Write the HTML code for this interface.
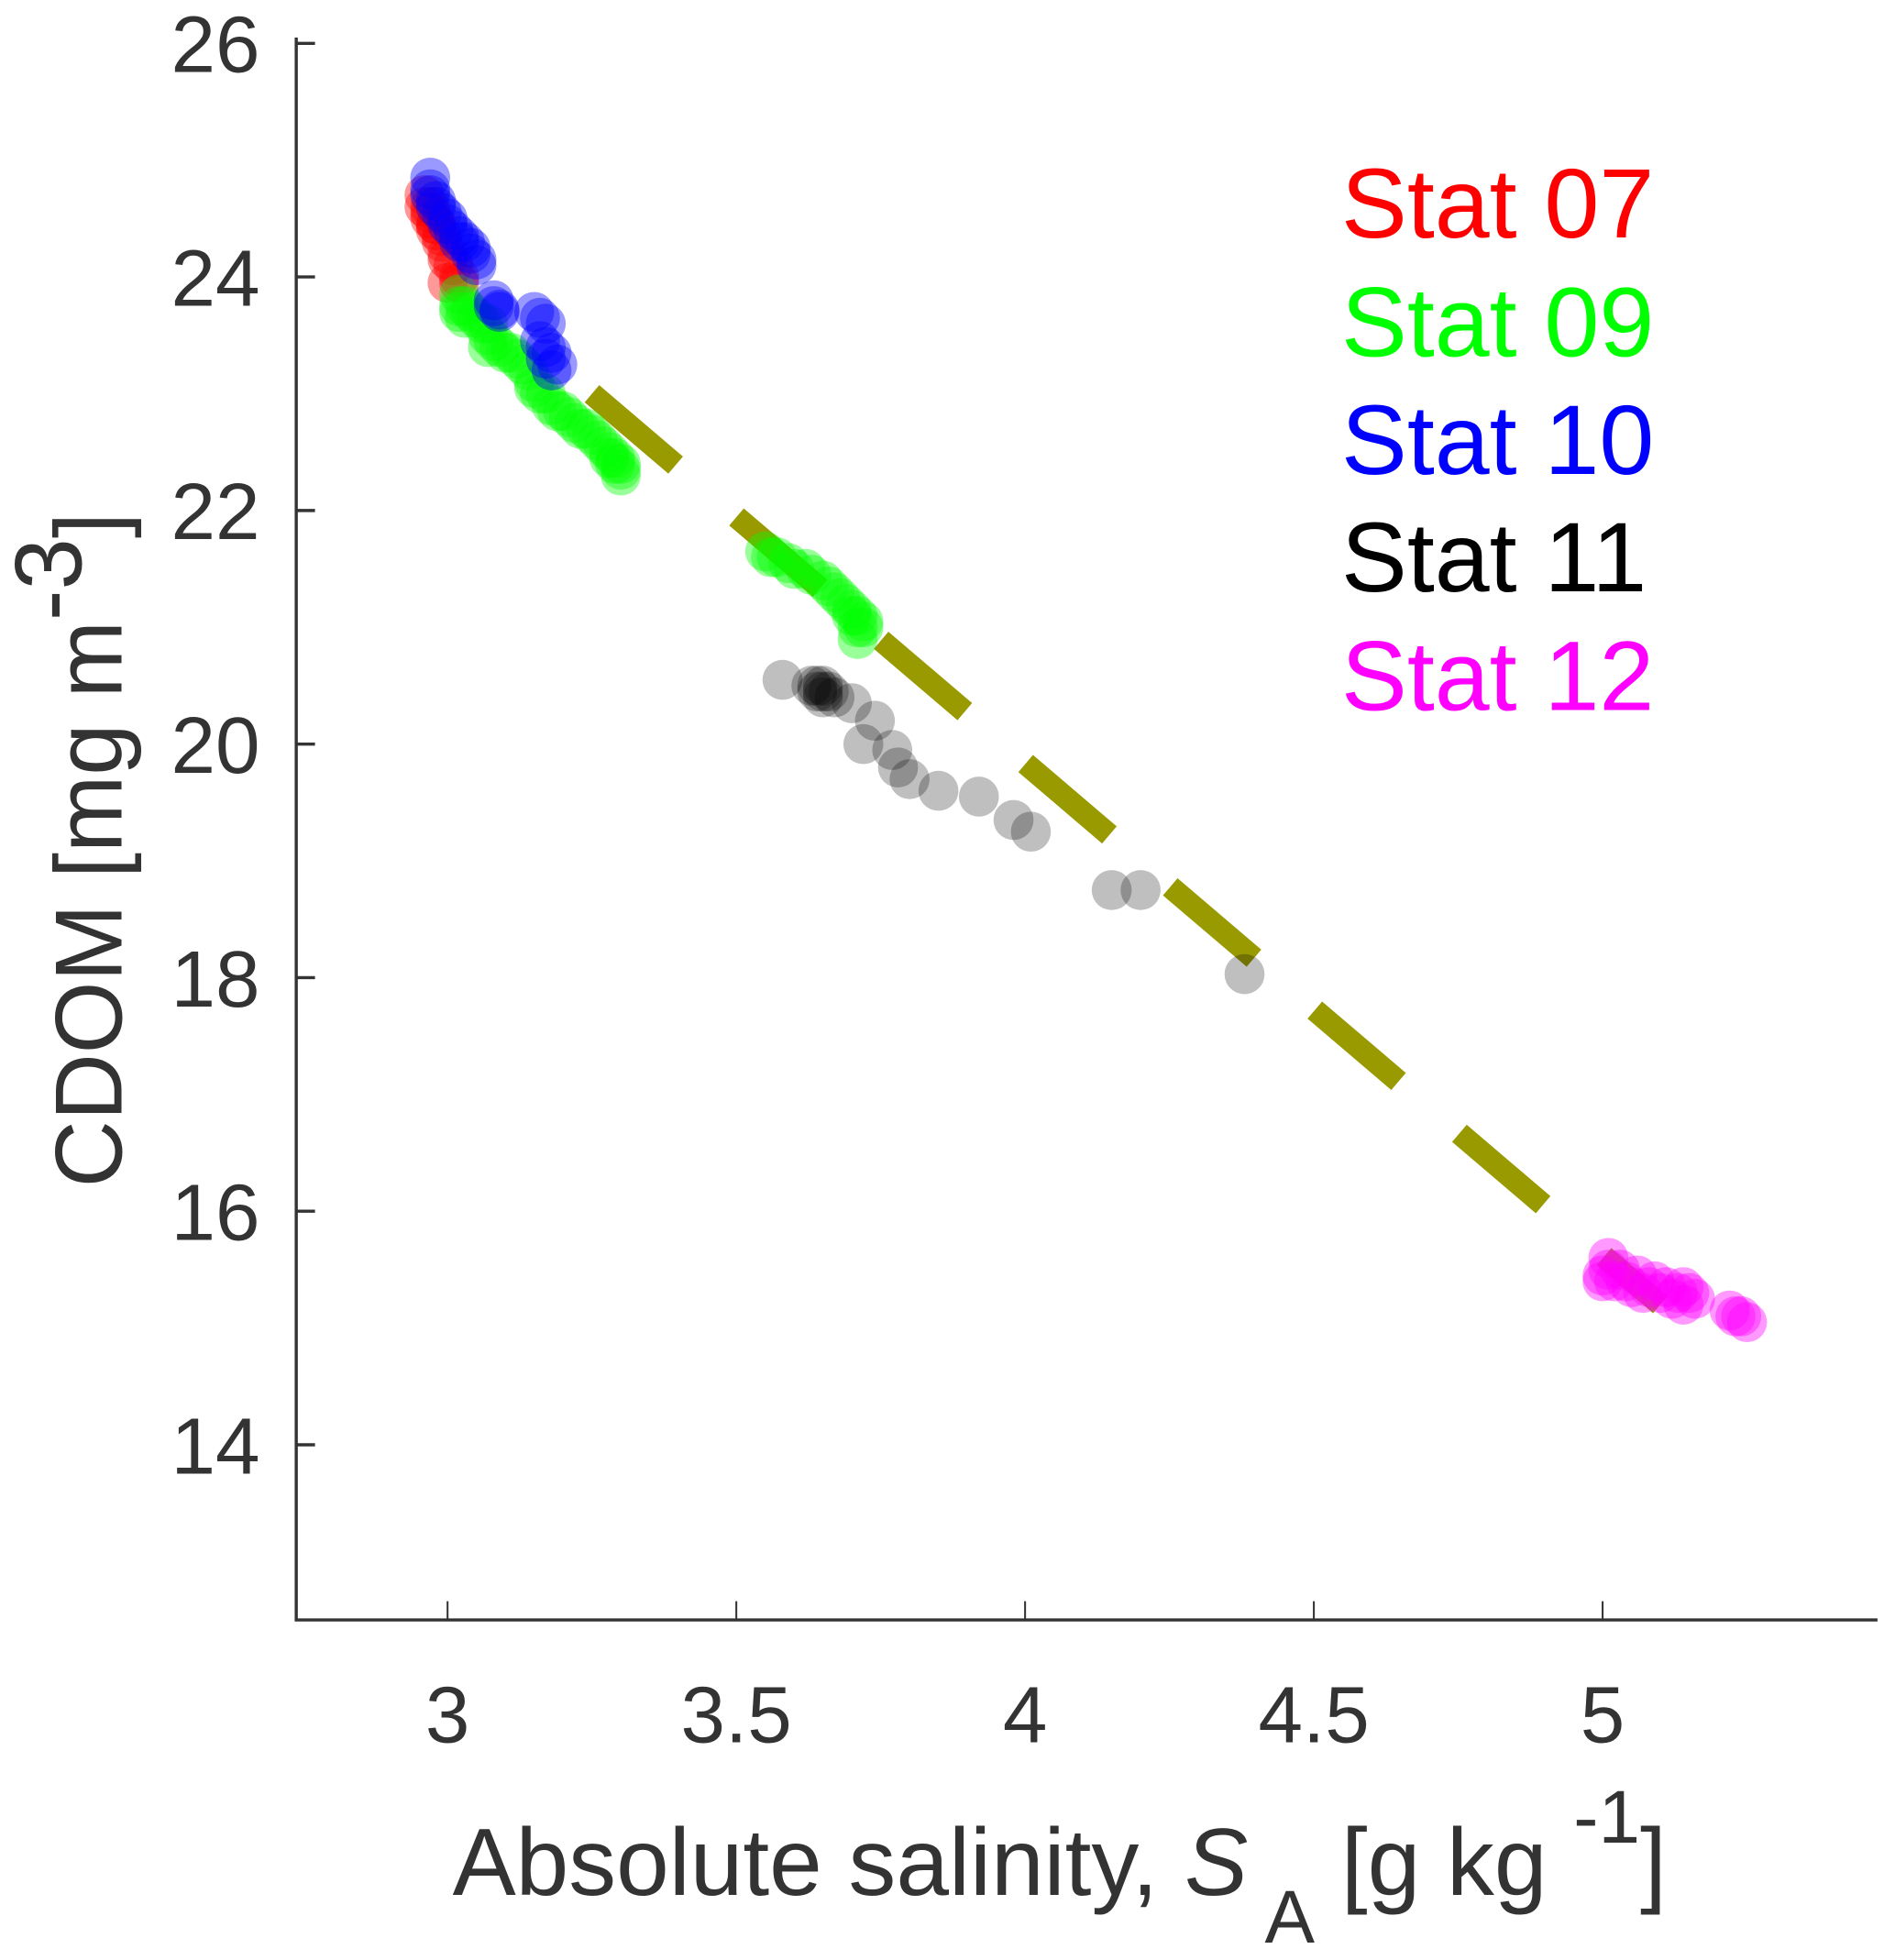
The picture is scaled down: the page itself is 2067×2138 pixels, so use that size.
<!DOCTYPE html>
<html><head><meta charset="utf-8"><style>
html,body{margin:0;padding:0;background:#fff;}
svg{display:block;font-family:"Liberation Sans",Arial,sans-serif;}
</style></head><body>
<svg id="chart" width="2067" height="2138" viewBox="0 0 1516 1568" xmlns="http://www.w3.org/2000/svg">
<g id="marks"></g>
<g id="axes"></g>
<text transform="translate(97,680) rotate(-90)" text-anchor="middle" font-size="76" fill="#333" textLength="540" lengthAdjust="spacingAndGlyphs">CDOM [mg m<tspan dy="-32">-3</tspan><tspan dy="32">]</tspan></text>
<text x="362" y="1516" font-size="76" fill="#333">Absolute salinity, <tspan font-style="italic">S</tspan><tspan dy="38" font-size="60"> A</tspan><tspan dy="-38"> [g kg </tspan><tspan dy="-42" font-size="60">-1</tspan><tspan dy="42">]</tspan></text>
<g font-size="79">
<text x="1073" y="190" fill="#ff0000">Stat 07</text>
<text x="1073" y="285" fill="#00ff00">Stat 09</text>
<text x="1073" y="379" fill="#0000ff">Stat 10</text>
<text x="1073" y="473" fill="#000000">Stat 11</text>
<text x="1073" y="568" fill="#ff00ff">Stat 12</text>
</g>
</svg>
<script>
const xTicks=[3,3.5,4,4.5,5];
const xTickLabels=["3","3.5","4","4.5","5"];
const yTicks=[14,16,18,20,22,24,26];
const yTickLabels=["14","16","18","20","22","24","26"];
const fitX=[3.25,5.1];
const fitY=[23.0,15.2];
const s07x=[2.96,2.96,2.97,2.97,2.98,2.98,2.99,2.99,3.0,3.0,3.01,3.02,3.02,3.0,2.98,2.97];
const s07y=[24.7,24.6,24.6,24.5,24.45,24.4,24.35,24.3,24.2,24.15,24.1,24.0,23.95,23.95,24.45,24.55];
const s09x=[3.02,3.02,3.02,3.03,3.03,3.04,3.05,3.06,3.07,3.07,3.07,3.08,3.09,3.1,3.11,3.12,3.13,3.14,3.15,3.15,3.16,3.17,3.18,3.19,3.2,3.21,3.22,3.23,3.24,3.25,3.26,3.27,3.28,3.28,3.29,3.29,3.30,3.30,3.30,3.55,3.56,3.57,3.59,3.6,3.62,3.63,3.65,3.66,3.67,3.68,3.69,3.7,3.7,3.71,3.71,3.72,3.72,3.71];
const s09y=[23.85,23.75,23.7,23.75,23.65,23.7,23.65,23.6,23.6,23.5,23.4,23.45,23.4,23.35,23.35,23.3,23.25,23.2,23.1,23.05,23.0,23.0,22.9,22.85,22.85,22.8,22.75,22.7,22.7,22.65,22.6,22.55,22.5,22.45,22.45,22.4,22.35,22.3,22.4,21.65,21.6,21.6,21.55,21.5,21.5,21.45,21.4,21.35,21.3,21.25,21.2,21.15,21.1,21.1,21.0,21.05,21.0,20.9];
const s10x=[2.97,2.97,2.97,2.98,2.98,2.99,3.0,3.0,3.01,3.02,3.02,3.03,3.04,3.04,3.05,3.05,3.08,3.08,3.09,3.09,3.15,3.16,3.17,3.16,3.17,3.18,3.18,3.17,3.19];
const s10y=[24.85,24.75,24.7,24.65,24.6,24.55,24.5,24.45,24.4,24.35,24.3,24.3,24.2,24.25,24.1,24.15,23.8,23.75,23.7,23.72,23.7,23.65,23.6,23.45,23.4,23.35,23.2,23.3,23.25];
const s11x=[3.58,3.63,3.64,3.65,3.65,3.66,3.64,3.65,3.67,3.7,3.74,3.72,3.77,3.78,3.8,3.85,3.92,3.98,4.01,4.15,4.2,4.38];
const s11y=[20.55,20.5,20.45,20.5,20.45,20.45,20.5,20.4,20.4,20.35,20.2,20.0,19.95,19.8,19.7,19.6,19.55,19.35,19.25,18.75,18.75,18.03];
const s12x=[5.0,5.0,5.01,5.01,5.02,5.03,5.04,5.05,5.06,5.07,5.08,5.09,5.1,5.11,5.12,5.13,5.14,5.15,5.16,5.22,5.23,5.24,5.25,5.14];
const s12y=[15.45,15.4,15.5,15.6,15.4,15.5,15.4,15.35,15.45,15.3,15.35,15.4,15.3,15.35,15.25,15.3,15.2,15.3,15.25,15.15,15.1,15.1,15.05,15.35];

const L=237,R=1502,T=30,B=1296;
const xMin=2.738,xMax=5.476,yMin=12.5,yMax=26.05;
function sx(v){return L+(v-xMin)/(xMax-xMin)*(R-L);}
function sy(v){return B-(v-yMin)/(yMax-yMin)*(B-T);}
const NS="http://www.w3.org/2000/svg";
function mk(tag,attrs,parent){const e=document.createElementNS(NS,tag);for(const k in attrs)e.setAttribute(k,attrs[k]);parent.appendChild(e);return e;}
const marks=document.getElementById('marks'),axes=document.getElementById('axes');

const fit=mk('line',{x1:sx(fitX[0]),y1:sy(fitY[0]),x2:sx(fitX[1]),y2:sy(fitY[1]),stroke:'#999900','stroke-width':18,'stroke-dasharray':'88 64'},marks);



function series(xs,ys,color,name,op){
  const g=mk('g',{},marks);
  
  
  for(let i=0;i<xs.length;i++){
    const c=mk('circle',{cx:sx(xs[i]),cy:sy(ys[i]),r:16,fill:color,'fill-opacity':op},g);
    
    
  }
}
series(s07x,s07y,'#ff0000','stat07-series',0.4);
series(s09x,s09y,'#00ff00','stat09-series',0.4);
series(s10x,s10y,'#0000ff','stat10-series',0.4);
series(s11x,s11y,'#000000','stat11-series',0.25);
series(s12x,s12y,'#ff00ff','stat12-series',0.4);

const ax=mk('path',{d:`M${L},${T} L${L},${B} L${R},${B}`,stroke:'#333','stroke-width':2.5,fill:'none'},axes);


xTicks.forEach((v,i)=>{
  const t=mk('line',{x1:sx(v),y1:B,x2:sx(v),y2:B-15,stroke:'#333','stroke-width':1.5},axes);
  
  
  const lb=mk('text',{x:sx(v),y:1394,'text-anchor':'middle','font-size':64,fill:'#333'},axes);
  lb.textContent=xTickLabels[i];
  
  
});
yTicks.forEach((v,i)=>{
  const t=mk('line',{x1:L,y1:sy(v),x2:L+15,y2:sy(v),stroke:'#333','stroke-width':2.5},axes);
  
  
  const lb=mk('text',{x:208,y:sy(v)+23,'text-anchor':'end','font-size':64,fill:'#333'},axes);
  lb.textContent=yTickLabels[i];
  
  
});
</script>
</body></html>
